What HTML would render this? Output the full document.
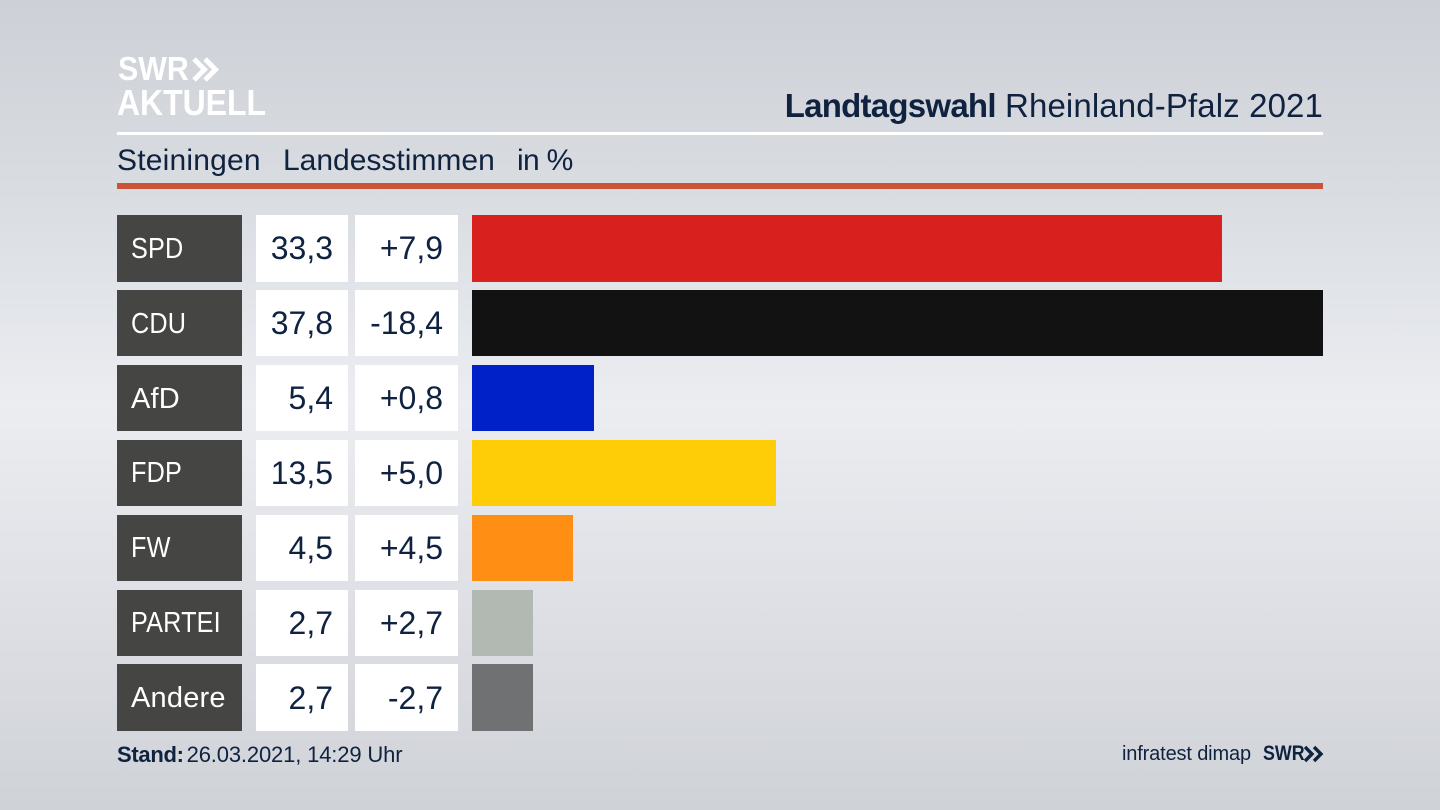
<!DOCTYPE html>
<html lang="de">
<head>
<meta charset="utf-8">
<title>Landtagswahl Rheinland-Pfalz 2021 – Steiningen</title>
<style>
html,body{margin:0;padding:0;width:1440px;height:810px;overflow:hidden}
body{position:relative;font-family:"Liberation Sans",sans-serif;color:#0f2240;
background:linear-gradient(180deg,#cdd0d6 0%,#dadde2 25%,#ebedf1 50%,#dcdee3 78%,#cfd2d7 100%)}
.abs{position:absolute;white-space:nowrap}
.party{position:absolute;left:117px;width:124.5px;background:#454543;color:#fff;font-size:29px;box-sizing:border-box;padding:2px 0 0 14px;display:flex;align-items:center;letter-spacing:.2px}
.party span{display:inline-block;transform-origin:left center;white-space:nowrap}
.val{position:absolute;background:#fff;font-size:32px;box-sizing:border-box;display:flex;align-items:center;justify-content:flex-end;padding:1px 15px 0 0}
.bar{position:absolute}
</style>
</head>
<body>
<div class="abs" style="left:118px;top:50px;font-size:33px;line-height:38px;font-weight:700;color:#fff;transform-origin:left top;transform:scaleX(.92)">SWR</div>
<svg class="abs" style="left:192px;top:56px" width="28" height="27" viewBox="0 0 28 27"><path d="M2 3l10.500 10.500-10.500 10.500M13 3l10.500 10.500-10.500 10.500" fill="none" stroke="#fff" stroke-width="5"/></svg>
<div class="abs" style="left:117px;top:84px;font-size:36px;line-height:38px;font-weight:700;color:#fff;transform-origin:left top;transform:scaleX(.887)">AKTUELL</div>

<div class="abs" style="right:117px;top:86px;font-size:33px;line-height:40px;letter-spacing:.12px"><b style="letter-spacing:-.75px">Landtagswahl</b> Rheinland-Pfalz 2021</div>
<div class="abs" style="left:117px;top:132px;width:1206px;height:3px;background:#fff"></div>

<div class="abs" style="left:117px;top:142px;font-size:30px;line-height:38px;letter-spacing:.2px">Steiningen</div>
<div class="abs" style="left:283px;top:142px;font-size:30px;line-height:38px">Landesstimmen</div>
<div class="abs" style="left:517px;top:142px;font-size:30px;line-height:38px;letter-spacing:-.7px">in %</div>
<div class="abs" style="left:117px;top:183px;width:1206px;height:6px;background:#cd5338"></div>

<div id="chart"></div>

<div class="abs" style="left:117px;top:741px;font-size:22px;line-height:28px;letter-spacing:-.15px"><b style="margin-right:-3px;letter-spacing:-.3px">Stand:</b> 26.03.2021, 14:29 Uhr</div>
<div class="abs" style="left:1122px;top:740px;font-size:20px;line-height:28px;letter-spacing:-.15px">infratest dimap</div>
<div class="abs" style="left:1263px;top:740px;font-size:21px;line-height:28px;font-weight:700;transform-origin:left top;transform:scaleX(.85)">SWR</div>
<svg class="abs" style="left:1304px;top:745px" width="20" height="18" viewBox="0 0 20 18"><path d="M1 2l7 7-7 7M10 2l7 7-7 7" fill="none" stroke="#0f2240" stroke-width="3.400"/></svg>

<script>
var parties = ['SPD', 'CDU', 'AfD', 'FDP', 'FW', 'PARTEI', 'Andere'];
var shares = [33.3, 37.8, 5.4, 13.5, 4.5, 2.7, 2.7];
var changes = [7.9, -18.4, 0.8, 5.0, 4.5, 2.7, -2.7];
var barColors = ['#d8201f', '#121212', '#0021c8', '#ffcd08', '#ff8f14', '#b2b9b3', '#707173'];

var axisMax = 37.8;
var barLeft = 472;
var barRight = 1323;
var rowTop = 215;
var rowStep = 74.9;
var rowHeight = 66.5;

function xScale(v) {
  return (barRight - barLeft) * v / axisMax;
}
function yScale(i) {
  return rowTop + i * rowStep;
}
function fmt(v) {
  return v.toFixed(1).replace('.', ',');
}
function fmtChange(v) {
  return (v > 0 ? '+' : '') + fmt(v);
}

var chart = document.getElementById('chart');

parties.forEach(function (party, i) {
  var y = yScale(i);
  var slug = party.toLowerCase();

  var label = document.createElement('div');
  label.className = 'party';
  
  
  label.style.top = y + 'px';
  label.style.height = rowHeight + 'px';
  var labelText = document.createElement('span');
  
  
  labelText.textContent = party;
  if (party === party.toUpperCase()) {
    labelText.style.transform = 'scaleX(.87)';
  }
  label.appendChild(labelText);
  chart.appendChild(label);

  var share = document.createElement('div');
  share.className = 'val';
  
  
  share.style.left = '255.5px';
  share.style.width = '92.5px';
  share.style.top = y + 'px';
  share.style.height = rowHeight + 'px';
  share.textContent = fmt(shares[i]);
  chart.appendChild(share);

  var change = document.createElement('div');
  change.className = 'val';
  
  
  change.style.left = '355px';
  change.style.width = '103px';
  change.style.top = y + 'px';
  change.style.height = rowHeight + 'px';
  change.textContent = fmtChange(changes[i]);
  chart.appendChild(change);

  var bar = document.createElement('div');
  bar.className = 'bar';
  
  
  bar.style.left = barLeft + 'px';
  bar.style.top = y + 'px';
  bar.style.height = rowHeight + 'px';
  bar.style.width = xScale(shares[i]) + 'px';
  bar.style.background = barColors[i];
  chart.appendChild(bar);
});
</script>
</body>
</html>
